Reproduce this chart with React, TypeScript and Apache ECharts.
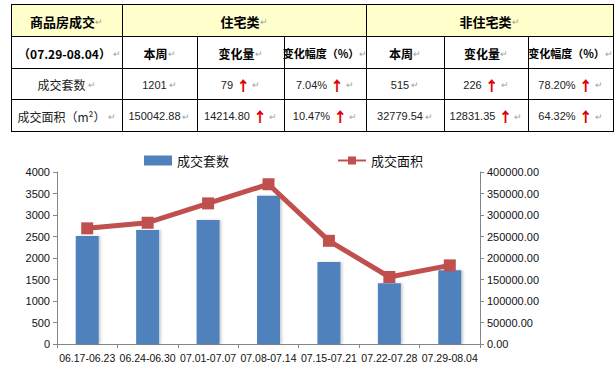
import React, { useEffect, useRef } from "react";
import * as echarts from "echarts";

// ---- chart data ----
const weeks = [
  "06.17-06.23",
  "06.24-06.30",
  "07.01-07.07",
  "07.08-07.14",
  "07.15-07.21",
  "07.22-07.28",
  "07.29-08.04",
];
const unitsSold = [2510, 2650, 2885, 3450, 1905, 1411, 1716];
const areaSold = [269000, 282000, 327000, 371500, 240000, 155776.27, 182822.42];
const seriesNames = ["成交套数", "成交面积"];

// ---- table data ----
const tableTitle = "商品房成交";
const periodLabel = "（07.29-08.04）";
const groupNames = ["住宅类", "非住宅类"];
const subHeaders = ["本周", "变化量", "变化幅度（%）"];
const rowLabels = ["成交套数", "成交面积（m²）"];
const residential = [
  ["1201", "79", "7.04%"],
  ["150042.88", "14214.80", "10.47%"],
];
const nonResidential = [
  ["515", "226", "78.20%"],
  ["32779.54", "12831.35", "64.32%"],
];

const COLX = [11, 122, 197, 284, 366, 444, 528, 613];
const ROWY = [4, 36, 68, 99, 131];

const CJK = "'Noto Sans CJK SC', 'Noto Sans', sans-serif";
const NUM = "'Liberation Sans', Arial, sans-serif";

const rich = {
  h1: { fontFamily: CJK, fontSize: 13, fontWeight: "bold", fill: "#000" },
  h2: { fontFamily: CJK, fontSize: 12, fontWeight: "bold", fill: "#000" },
  h3: { fontFamily: CJK, fontSize: 11, fontWeight: "bold", fill: "#000" },
  lab: { fontFamily: CJK, fontSize: 12, fill: "#222" },
  num: { fontFamily: NUM, fontSize: 11, fill: "#222" },
  up: { fontFamily: CJK, fontSize: 14, fontWeight: 900, fill: "#e00000" },
  m: { fontFamily: CJK, fontSize: 9, fill: "#a0a0a0" },
};

function cellText(cx: number, cy: number, text: string) {
  return {
    type: "text",
    x: cx,
    y: cy,
    z: 10,
    style: { text, rich, align: "center", verticalAlign: "middle" },
  };
}

function buildTable() {
  const els: any[] = [];
  const x0 = COLX[0];
  const x1 = COLX[COLX.length - 1];
  els.push({
    type: "rect",
    shape: { x: x0, y: ROWY[0], width: x1 - x0, height: ROWY[1] - ROWY[0] },
    style: { fill: "#FFFFCC" },
    z: 1,
  });
  const ln = (xa: number, ya: number, xb: number, yb: number) => ({
    type: "line",
    shape: { x1: xa, y1: ya, x2: xb, y2: yb },
    style: { stroke: "#000", lineWidth: 1 },
    z: 5,
  });
  ROWY.forEach((y) => els.push(ln(x0, y + 0.5, x1 + 1, y + 0.5)));
  COLX.forEach((x, i) => {
    const full = i === 0 || i === 1 || i === 4 || i === COLX.length - 1;
    els.push(ln(x + 0.5, full ? ROWY[0] : ROWY[1], x + 0.5, ROWY[4] + 1));
  });
  const cy = (r: number) => (ROWY[r] + ROWY[r + 1]) / 2 + 1;
  const cx = (c: number) => (COLX[c] + COLX[c + 1]) / 2;
  els.push(cellText(cx(0), cy(0), `{h1|${tableTitle}}{m|↵}`));
  els.push(cellText((COLX[1] + COLX[4]) / 2, cy(0), `{h1|${groupNames[0]}}{m|↵}`));
  els.push(cellText((COLX[4] + COLX[7]) / 2, cy(0), `{h1|${groupNames[1]}}{m|↵}`));
  els.push(cellText(cx(0) + 3, cy(1), `{h2|${periodLabel}}{m| ↵}`));
  for (let g = 0; g < 2; g++) {
    subHeaders.forEach((h, j) => {
      const style = j === 2 ? "h3" : "h2";
      els.push(cellText(cx(1 + g * 3 + j), cy(1), `{${style}|${h}}{m|↵}`));
    });
  }
  rowLabels.forEach((lab, r) => {
    els.push(cellText(cx(0), cy(2 + r), `{lab|${lab}}{m| ↵}`));
    [residential, nonResidential].forEach((grp, g) => {
      grp[r].forEach((v, j) => {
        const t =
          j === 0 ? `{num|${v}}{m| ↵}` : `{num|${v} }{up|↑}{m| ↵}`;
        els.push(cellText(cx(1 + g * 3 + j), cy(2 + r), t));
      });
    });
  });
  return els;
}

export default function App() {
  const ref = useRef<HTMLDivElement>(null);
  useEffect(() => {
    document.body.style.margin = "0";
    const chart = echarts.init(ref.current!, undefined, { renderer: "svg" });
    const axisLineStyle = { show: true, lineStyle: { color: "#868686", width: 1 } };
    const labelStyle = { color: "#111", fontSize: 11, fontFamily: NUM };
    chart.setOption({
      animation: false,
      backgroundColor: "#fff",
      legend: {
        top: 149,
        left: 139,
        itemGap: 108,
        itemWidth: 28,
        itemHeight: 10,
        textStyle: { fontSize: 13, color: "#111", fontFamily: CJK },
        data: [
          { name: seriesNames[0], icon: "rect", itemStyle: { color: "#4F81BD" } },
          { name: seriesNames[1] },
        ],
      },
      grid: { left: 57, right: 136, top: 172, bottom: 26 },
      xAxis: {
        type: "category",
        data: weeks,
        boundaryGap: true,
        axisLine: axisLineStyle,
        axisTick: { show: true, length: 4, interval: 0, lineStyle: { color: "#868686" } },
        axisLabel: { ...labelStyle, fontSize: 10.5, interval: 0, margin: 8 },
      },
      yAxis: [
        {
          type: "value",
          min: 0,
          max: 4000,
          interval: 500,
          axisLine: axisLineStyle,
          axisTick: { show: true, length: 4, lineStyle: { color: "#868686" } },
          axisLabel: { ...labelStyle, margin: 7, formatter: (v: number) => String(v) },
          splitLine: { show: false },
        },
        {
          type: "value",
          min: 0,
          max: 400000,
          interval: 50000,
          position: "right",
          axisLine: axisLineStyle,
          axisTick: { show: true, length: 4, lineStyle: { color: "#868686" } },
          axisLabel: {
            ...labelStyle,
            margin: 7,
            formatter: (v: number) => v.toFixed(2),
          },
          splitLine: { show: false },
        },
      ],
      series: [
        {
          name: seriesNames[0],
          type: "bar",
          data: unitsSold,
          barWidth: 23,
          itemStyle: {
            color: "#4F81BD",
            shadowColor: "rgba(0,0,0,0.18)",
            shadowBlur: 2,
            shadowOffsetX: 2,
            shadowOffsetY: 0,
          },
        },
        {
          name: seriesNames[1],
          type: "line",
          yAxisIndex: 1,
          data: areaSold,
          symbol: "rect",
          symbolSize: 12,
          lineStyle: { color: "#C0504D", width: 5 },
          itemStyle: { color: "#C0504D" },
          z: 5,
        },
      ],
      graphic: buildTable(),
    });
    return () => chart.dispose();
  }, []);
  return (
    <div
      ref={ref}
      style={{ position: "absolute", left: 0, top: 0, width: 616, height: 370 }}
    />
  );
}
